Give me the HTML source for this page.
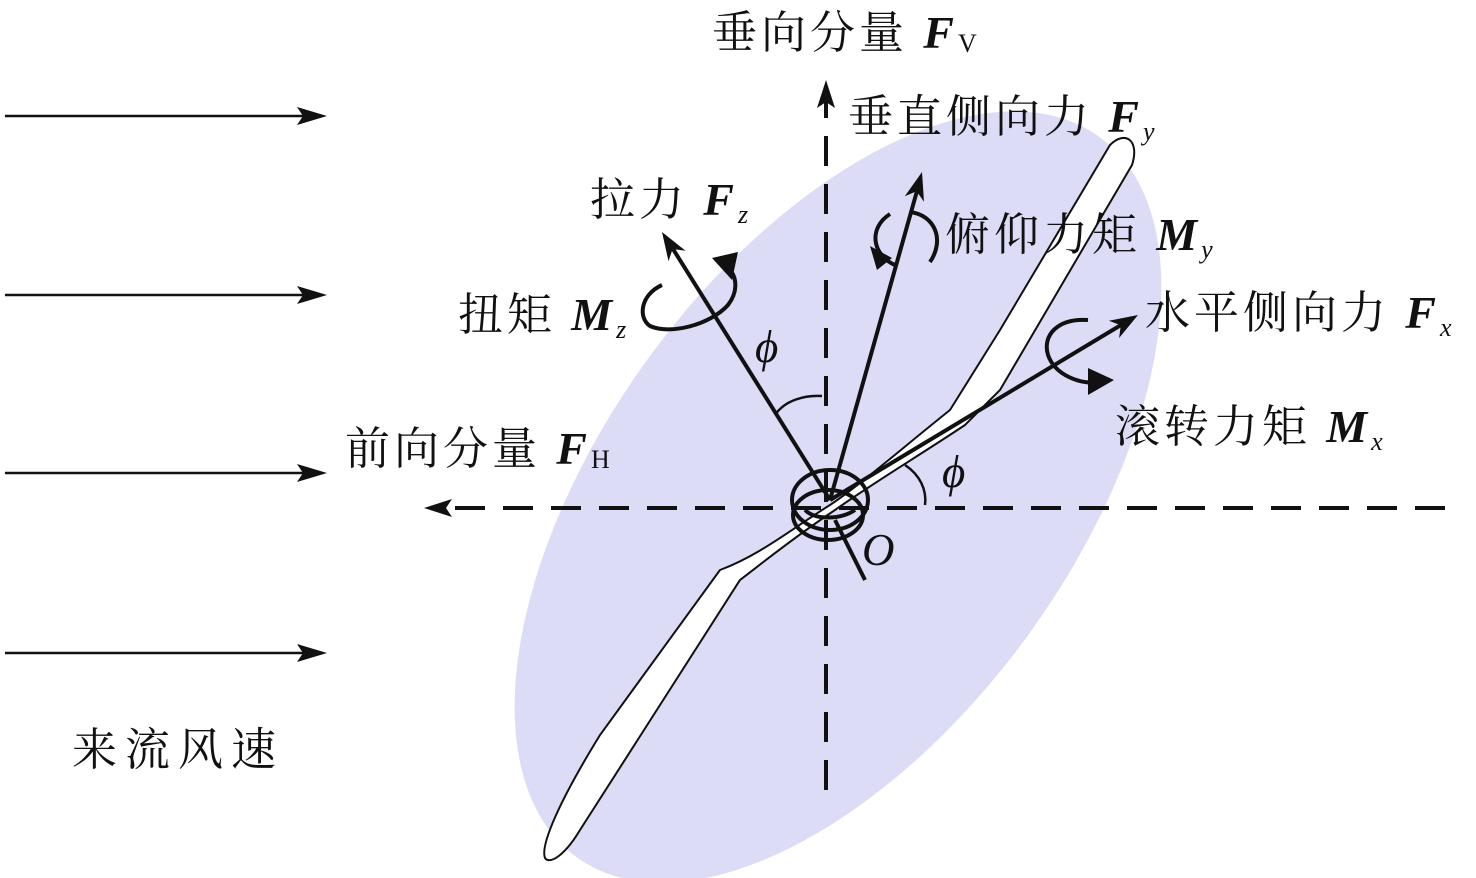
<!DOCTYPE html>
<html><head><meta charset="utf-8"><style>
html,body{margin:0;background:#fff;overflow:hidden;width:1476px;height:878px}
svg{display:block}
svg text{font-family:"Liberation Serif","Noto Serif CJK SC",serif;font-size:45px;letter-spacing:4px;fill:#111}
.b{font-weight:bold;font-style:italic;font-size:46px}
.s{font-style:italic;font-size:26px}
</style></head><body>
<svg width="1476" height="878" viewBox="0 0 1476 878" xmlns="http://www.w3.org/2000/svg">
<ellipse cx="838" cy="497" rx="445" ry="235" transform="rotate(-54 838 497)" fill="#dcdcf6"/>
<path d="M545,858 C540,845 560,800 600,735 L720,570 C760,555 790,530 830,505 C860,485 900,450 950,410 L1000,330 L1110,145 C1125,130 1140,140 1132,165 L1000,390 L965,425 C920,455 870,485 835,510 C790,540 760,565 740,580 L580,830 C565,855 550,865 545,858 Z" fill="#fff" stroke="#111" stroke-width="2"/>
<g stroke="#111" stroke-width="2.5">
<line x1="5" y1="116" x2="310" y2="116"/>
<line x1="5" y1="295" x2="310" y2="295"/>
<line x1="5" y1="473" x2="310" y2="473"/>
<line x1="5" y1="653" x2="310" y2="653"/>
</g>
<g fill="#111">
<path d="M327,116 L297,107 L303,116 L297,125Z"/>
<path d="M327,295 L297,286 L303,295 L297,304Z"/>
<path d="M327,473 L297,464 L303,473 L297,482Z"/>
<path d="M327,653 L297,644 L303,653 L297,662Z"/>
</g>
<line x1="826" y1="790" x2="826" y2="100" stroke="#111" stroke-width="4" stroke-dasharray="30,18"/>
<path d="M826,80 L835,108 L826,102 L817,108Z" fill="#111"/>
<line x1="1445" y1="508" x2="445" y2="508" stroke="#111" stroke-width="4" stroke-dasharray="30,18"/>
<path d="M424,508 L452,499 L446,508 L452,517Z" fill="#111"/>
<g stroke="#111" stroke-width="4">
<line x1="830" y1="500" x2="673" y2="249"/>
<line x1="830" y1="500" x2="917" y2="191"/>
<line x1="830" y1="500" x2="1121" y2="325"/>
</g>
<g fill="#111">
<path d="M662,232 L685.5,250.7 L672.6,249 L668.5,261.3Z"/>
<path d="M922,172 L924,201.7 L916.6,191.3 L904.8,196.3Z"/>
<path d="M1138,315 L1119.1,338 L1120.8,325.3 L1108.9,320.8Z"/>
</g>
<line x1="835" y1="520" x2="865" y2="580" stroke="#111" stroke-width="4"/>
<g fill="none" stroke="#111" stroke-width="4">
<ellipse cx="830" cy="500" rx="38" ry="30"/>
<ellipse cx="828" cy="515" rx="35" ry="25"/>
<path d="M805,510 C815,520 840,520 855,510"/>
</g>
<path d="M775,415 C785,400 805,395 822,396" fill="none" stroke="#111" stroke-width="2.5"/>
<path d="M905,465 C920,475 927,490 925,505" fill="none" stroke="#111" stroke-width="2.5"/>
<g fill="none" stroke="#111" stroke-width="4">
<path d="M662,285 C640,295 638,318 650,326 C670,335 710,325 728,305 C738,292 737,278 730,270"/>
<path d="M895,265 C872,255 868,228 890,214 M910,212 C935,215 945,240 930,262"/>
<path d="M1088,320 C1058,318 1042,335 1048,355 C1055,375 1080,385 1100,382"/>
</g>
<path d="M712,258 L738,252 L732,280Z" fill="#111"/>
<path d="M870,246 L892,258 L877,270Z" fill="#111"/>
<path d="M1088,368 L1114,380 L1088,395Z" fill="#111"/>
<text x="712" y="48">垂向分量 <tspan class="b">F</tspan><tspan font-size="26" dy="4">V</tspan></text>
<text x="848" y="132">垂直侧向力 <tspan class="b">F</tspan><tspan class="s" dy="8">y</tspan></text>
<text x="590" y="215">拉力 <tspan class="b">F</tspan><tspan class="s" dy="8">z</tspan></text>
<text x="945" y="250">俯仰力矩 <tspan class="b">M</tspan><tspan class="s" dy="8">y</tspan></text>
<text x="458" y="330">扭矩 <tspan class="b">M</tspan><tspan class="s" dy="8">z</tspan></text>
<text x="1145" y="328">水平侧向力 <tspan class="b">F</tspan><tspan class="s" dy="8">x</tspan></text>
<text x="755" y="362" font-style="italic">ϕ</text>
<text x="345" y="464">前向分量 <tspan class="b">F</tspan><tspan font-size="26" dy="4">H</tspan></text>
<text x="1115" y="442">滚转力矩 <tspan class="b">M</tspan><tspan class="s" dy="8">x</tspan></text>
<text x="942" y="487" font-style="italic">ϕ</text>
<text x="862" y="565" font-style="italic">O</text>
<text x="72" y="765" style="letter-spacing:8px">来流风速</text>
</svg>
</body></html>
